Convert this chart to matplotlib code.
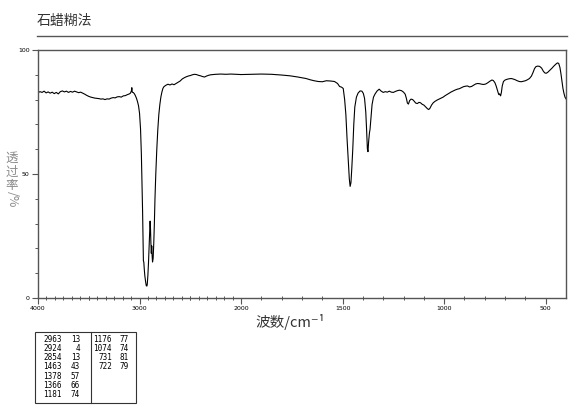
import numpy as np
import matplotlib
matplotlib.use("Agg")
import matplotlib.pyplot as plt
from matplotlib.lines import Line2D
from matplotlib.patches import Rectangle

plt.rcParams['font.family'] = ['Noto Sans CJK SC', 'DejaVu Sans']

title = "石蜡糊法"
xlabel = "波数/cm⁻¹"
ylabel_cjk = "透\n过\n率"
ylabel_tail = "/%"

wavenumber = [
    4000, 3980, 3960, 3940, 3920, 3900, 3880, 3860, 3840, 3820, 3800, 3780, 3760, 3740, 3720,
    3700, 3680, 3660, 3640, 3620, 3600, 3580, 3560, 3540, 3520, 3500, 3480, 3460, 3440, 3420,
    3400, 3380, 3360, 3340, 3320, 3300, 3280, 3260, 3240, 3220, 3200, 3180, 3160, 3140, 3120,
    3100, 3090, 3080, 3076, 3072, 3060, 3050, 3040, 3030, 3020, 3010, 3000, 2990, 2982, 2975,
    2970, 2965, 2962, 2958, 2954, 2948, 2940, 2934, 2928, 2924, 2918, 2912, 2906, 2900, 2896,
    2892, 2888, 2884, 2880, 2876, 2872, 2866, 2860, 2854, 2848, 2840, 2830, 2820, 2810, 2800,
    2790, 2780, 2770, 2760, 2740, 2720, 2700, 2680, 2660, 2640, 2620, 2600, 2580, 2560, 2540,
    2520, 2500, 2480, 2460, 2440, 2420, 2400, 2380, 2360, 2340, 2320, 2300, 2250, 2200, 2150,
    2100, 2050, 2000, 1950, 1900, 1850, 1800, 1760, 1720, 1680, 1660, 1640, 1620, 1600, 1580,
    1560, 1540, 1525, 1515, 1505, 1497, 1490, 1484, 1478, 1472, 1467, 1463, 1459, 1455, 1450,
    1445, 1440, 1432, 1424, 1414, 1405, 1398, 1392, 1386, 1382, 1378, 1375, 1372, 1368, 1365,
    1360, 1355, 1348, 1340, 1330, 1320, 1310, 1300, 1290, 1280, 1270, 1260, 1250, 1240, 1230,
    1220, 1210, 1200, 1192, 1186, 1181, 1176, 1170, 1163, 1155, 1148, 1140, 1132, 1124, 1116,
    1108, 1100, 1090, 1082, 1076, 1070, 1062, 1054, 1045, 1035, 1025, 1015, 1005, 995, 985,
    975, 965, 955, 945, 935, 925, 915, 905, 895, 885, 875, 865, 855, 845, 835,
    825, 815, 805, 795, 785, 775, 765, 758, 750, 744, 738, 733, 730, 727, 722,
    718, 714, 708, 700, 690, 680, 670, 660, 650, 640, 630, 620, 610, 600, 590,
    580, 570, 562, 555, 548, 540, 530, 520, 512, 505, 498, 490, 480, 470, 460,
    450, 442, 436, 430, 425, 420, 415, 410, 405, 400,
]
transmittance = [
    82.8, 83.2, 82.9, 83.4, 82.7, 83.1, 82.6, 83.0, 82.4, 82.9, 82.3, 83.2, 83.5, 83.1, 83.4,
    82.9, 83.3, 83.0, 83.4, 83.1, 82.8, 83.0, 82.6, 82.2, 81.7, 81.3, 81.0, 80.8, 80.6, 80.5,
    80.4, 80.2, 80.3, 80.0, 80.3, 80.2, 80.6, 80.8, 80.7, 81.1, 81.2, 81.0, 81.5, 81.6, 82.0,
    82.3, 82.6, 83.5, 84.8, 83.0, 82.8, 82.3, 81.5, 80.5, 79.2, 77.5, 74.5, 68.0, 58.0, 45.0,
    35.0, 22.0, 15.0, 14.5, 12.0, 9.0, 6.5, 5.0, 4.8, 5.5, 9.0, 14.0, 20.0, 27.0, 31.0,
    28.0, 22.0, 18.0, 21.0, 17.0, 14.5, 16.0, 22.0, 30.0, 40.0, 50.0, 60.0, 68.0, 74.0, 78.0,
    81.0, 83.0, 84.5, 85.2, 85.8, 86.2, 85.9, 86.3, 86.0, 86.5, 87.0, 87.5, 88.3, 88.8, 89.2,
    89.5, 89.7, 90.0, 90.2, 90.1, 89.8, 89.6, 89.3, 89.1, 89.5, 89.8, 90.0, 90.2, 90.3, 90.2,
    90.3, 90.2, 90.1, 90.2, 90.3, 90.2, 89.9, 89.6, 89.1, 88.5, 88.0, 87.6, 87.3, 87.2, 87.6,
    87.5, 87.3, 86.5, 85.3, 85.0, 84.5, 80.0, 74.0, 64.0, 55.0, 48.0, 45.0, 46.5, 52.0, 60.0,
    70.0, 77.0, 81.0, 82.6, 83.5, 83.4, 82.5, 80.5, 75.0, 68.0, 60.0, 59.0, 63.0, 66.5, 68.0,
    73.0, 78.0, 81.0, 82.3, 83.5, 84.2, 83.4, 82.9, 83.2, 83.0, 83.4, 83.0, 82.9, 83.3, 83.6,
    83.8, 83.6, 83.0, 82.2, 80.5, 78.6, 78.2, 79.6, 80.2, 80.0, 79.4, 78.6, 78.4, 78.9, 78.7,
    78.1, 77.8, 77.0, 76.3, 76.0, 76.5, 77.8, 78.7, 79.3, 79.8, 80.2, 80.6, 81.0, 81.6, 82.1,
    82.6, 83.1, 83.5, 83.9, 84.2, 84.4, 84.8, 85.2, 85.4, 85.5, 85.1, 85.3, 85.8, 86.3, 86.5,
    86.4, 86.2, 86.1, 86.3, 86.8, 87.4, 87.9, 87.7, 86.8, 85.5, 83.8, 82.5, 82.0, 82.3, 81.5,
    83.0, 85.5, 87.3, 87.9, 88.2, 88.4, 88.5, 88.3, 88.0, 87.6, 87.3, 87.2, 87.4, 87.6, 88.0,
    88.5, 89.5, 91.0, 92.5, 93.3, 93.5, 93.4, 92.7, 91.5, 90.8, 90.6, 91.0, 91.8, 92.6, 93.5,
    94.3, 94.8, 94.6, 93.0, 90.5, 87.5, 84.5, 82.5, 81.0, 80.3,
]

major_ticks = [4000, 3000, 2000, 1500, 1000, 500]
major_labels = ["4000", "3000", "2000", "1500", "1000", "500"]
y_ticks = [0, 50, 100]
y_labels = ["0", "50", "100"]

peak_left_wn = ["2963", "2924", "2854", "1463", "1378", "1366", "1181"]
peak_left_t = ["13", "4", "13", "43", "57", "66", "74"]
peak_right_wn = ["1176", "1074", "731", "722"]
peak_right_t = ["77", "74", "81", "79"]


def fwd(w):
    w = np.asarray(w, dtype=float)
    return np.where(w > 2000, 2000 + (w - 2000) / 2.0, w)


def inv(u):
    u = np.asarray(u, dtype=float)
    return np.where(u > 2000, 2000 + (u - 2000) * 2.0, u)


W, H = 570, 417
fig = plt.figure(figsize=(W / 100, H / 100), dpi=100)
ax = fig.add_axes([38 / W, 1 - 298 / H, 528 / W, 248 / H])
ax.set_xscale('function', functions=(fwd, inv))
ax.plot(wavenumber, transmittance, color='black', lw=0.8)
ax.set_xlim(4000, 400)
ax.set_ylim(0, 100)

spine_c = '#555555'
for s in ax.spines.values():
    s.set_color(spine_c)
    s.set_linewidth(1.0)

ax.set_xticks(major_ticks)
ax.set_xticklabels(major_labels, family='DejaVu Sans', fontsize=4.5)
minor_x = [3500, 2500]
minor_x += list(np.arange(4000, 2000, -500 / 6.0)[1:])
minor_x += list(range(1900, 400, -100))
minor_x = [m for m in minor_x if m not in major_ticks]
ax.set_xticks(minor_x, minor=True)
ax.tick_params(axis='x', which='major', direction='out', length=4, width=0.8,
               color=spine_c, pad=2)
ax.tick_params(axis='x', which='minor', direction='inout', length=3, width=0.7,
               color=spine_c)
ax.set_yticks(y_ticks)
ax.set_yticklabels(y_labels, family='DejaVu Sans', fontsize=4.5)
ax.set_yticks(list(range(10, 100, 10)), minor=True)
ax.tick_params(axis='y', which='major', direction='out', length=4, width=0.8,
               color=spine_c, pad=2)
ax.tick_params(axis='y', which='minor', direction='out', length=2, width=0.7,
               color=spine_c)

# title and rule
fig.text(37 / W, 1 - 21 / H, title, fontsize=10, color='#333333', va='center', ha='left')
fig.add_artist(Line2D([37 / W, 567 / W], [1 - 36 / H, 1 - 36 / H],
                      transform=fig.transFigure, color='#555555', lw=1.0))

# axis labels
fig.text(290 / W, 1 - 322 / H, xlabel, fontsize=10.5, color='#333333',
         ha='center', va='center')
fig.text(12 / W, 1 - 172 / H, ylabel_cjk, fontsize=9, color='#8a8a8a',
         ha='center', va='center', linespacing=1.05)
fig.text(12 / W, 1 - 199 / H, ylabel_tail, fontsize=9, color='#8a8a8a',
         ha='center', va='center', rotation=-90)

# peak table
box_l, box_r, box_t, box_b, div = 35, 136, 332, 403, 91
fig.add_artist(Rectangle((box_l / W, 1 - box_b / H), (box_r - box_l) / W,
                         (box_b - box_t) / H, transform=fig.transFigure,
                         fill=False, edgecolor='#333333', lw=0.8))
fig.add_artist(Line2D([div / W, div / W], [1 - box_t / H, 1 - box_b / H],
                      transform=fig.transFigure, color='#333333', lw=0.8))
row_y0, row_dy = 339, 9.3
for i, (a, b) in enumerate(zip(peak_left_wn, peak_left_t)):
    y = 1 - (row_y0 + i * row_dy) / H
    fig.text(62 / W, y, a, family='DejaVu Sans Mono', fontsize=5.5, ha='right', va='center')
    fig.text(80 / W, y, b, family='DejaVu Sans Mono', fontsize=5.5, ha='right', va='center')
for i, (a, b) in enumerate(zip(peak_right_wn, peak_right_t)):
    y = 1 - (row_y0 + i * row_dy) / H
    fig.text(112 / W, y, a, family='DejaVu Sans Mono', fontsize=5.5, ha='right', va='center')
    fig.text(129 / W, y, b, family='DejaVu Sans Mono', fontsize=5.5, ha='right', va='center')

fig.savefig('out.png', dpi=100)
